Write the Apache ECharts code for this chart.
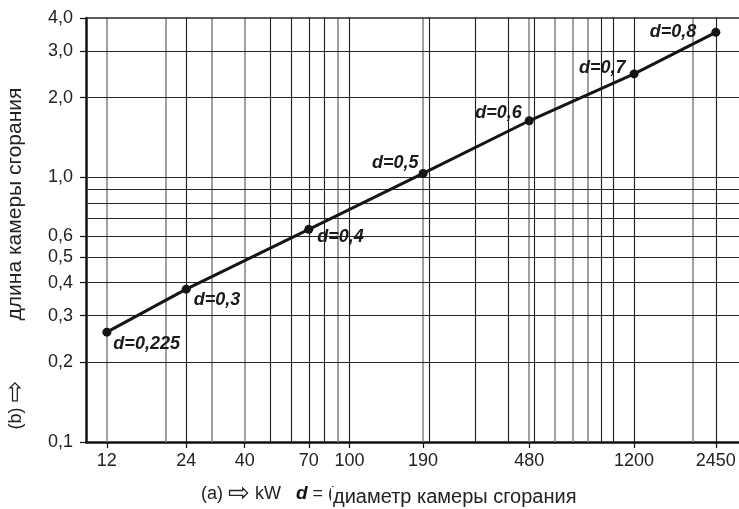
<!DOCTYPE html>
<html>
<head>
<meta charset="utf-8">
<script src="https://cdn.jsdelivr.net/npm/echarts@6/dist/echarts.min.js"></script>
<style>
  html, body { margin: 0; padding: 0; background: #fff; }
  #box { width: 739px; height: 509px; }
</style>
</head>
<body>
<div id="box"></div>
<script>
// мощность, kW
const powerKw = [12, 24, 70, 190, 480, 1200, 2450];
// длина камеры сгорания, m
const chamberLength = [0.26, 0.378, 0.636, 1.035, 1.636, 2.46, 3.53];
const dLabels = ['d=0,225', 'd=0,3', 'd=0,4', 'd=0,5', 'd=0,6', 'd=0,7', 'd=0,8'];

const xTickLabels = [12, 24, 40, 70, 100, 190, 480, 1200, 2450];
const yTickLabels = [0.1, 0.2, 0.3, 0.4, 0.5, 0.6, 1, 2, 3, 4];

// сетка
const xGridGray = [12, 20, 30, 40, 90, 190, 480, 600, 700, 800, 2000];
const xGridDark = [24, 50, 60, 70, 80, 100, 200, 300, 400, 500, 900, 1000, 1200, 2450];
const yGrid = [0.2, 0.3, 0.4, 0.5, 0.6, 0.7, 0.8, 0.9, 1, 2, 3, 4];

const FONT = '"Liberation Sans", Arial, sans-serif';

// где стоит подпись у точки
const labelSide = ['right', 'right', 'right', 'left', 'left', 'left', 'left'];
const labelShift = [[-3, 12], [-2, 11], [-1, 8], [5, -10], [2, -8], [1, -6], [-10, 0]];

const chart = echarts.init(document.getElementById('box'));

const gridLines = [];
xGridGray.forEach(v => gridLines.push({ xAxis: v, lineStyle: { color: '#8a8a8a', width: 1.6, type: 'solid' } }));
xGridDark.forEach(v => gridLines.push({ xAxis: v, lineStyle: { color: '#1e1e1e', width: 1.1, type: 'solid' } }));
yGrid.forEach(v => gridLines.push({ yAxis: v, lineStyle: { color: '#262626', width: v === 4 ? 1.5 : 1.1, type: 'solid' } }));

const option = {
    animation: false,
    grid: { left: 86, right: 0, top: 18, bottom: 67 },
    xAxis: {
        type: 'log',
        logBase: 10,
        min: 10,
        max: 3000,
        axisLine: { show: true, onZero: false, lineStyle: { color: '#111', width: 2.5 } },
        axisTick: { show: true, length: 6, customValues: xTickLabels, lineStyle: { color: '#111', width: 1.2 } },
        axisLabel: {
            customValues: xTickLabels,
            color: '#222',
            fontSize: 18,
            fontFamily: FONT,
            margin: 10,
            formatter: v => String(v)
        },
        splitLine: { show: false },
        minorTick: { show: false }
    },
    yAxis: {
        type: 'log',
        logBase: 10,
        min: 0.1,
        max: 4,
        axisLine: { show: true, lineStyle: { color: '#111', width: 2.5 } },
        axisTick: { show: true, length: 6, customValues: yTickLabels, lineStyle: { color: '#111', width: 1.2 } },
        axisLabel: {
            customValues: yTickLabels,
            color: '#222',
            fontSize: 18,
            fontFamily: FONT,
            margin: 13,
            formatter: v => v.toFixed(1).replace('.', ',')
        },
        splitLine: { show: false }
    },
    graphic: [
        {
            type: 'text',
            x: 15, y: 204,
            rotation: Math.PI / 2,
            style: {
                text: 'длина камеры сгорания',
                font: '21px ' + FONT,
                fill: '#222',
                align: 'center',
                verticalAlign: 'middle'
            }
        },
        {
            type: 'text',
            x: 16, y: 405,
            rotation: Math.PI / 2,
            style: {
                text: '(b) {a|⇨}',
                font: '18px ' + FONT,
                fill: '#222',
                align: 'center',
                verticalAlign: 'middle',
                rich: {
                    a: { font: '26px "DejaVu Sans", sans-serif', fill: '#222' }
                }
            }
        },
        {
            type: 'text',
            x: 334, y: 494,
            style: {
                text: '(a) {a|⇨} kW   {b|d} = (',
                font: '18px ' + FONT,
                fill: '#222',
                align: 'right',
                verticalAlign: 'middle',
                rich: {
                    a: { font: '26px "DejaVu Sans", sans-serif', fill: '#222' },
                    b: { font: 'italic bold 19px ' + FONT, fill: '#111' }
                }
            }
        },
        {
            type: 'text',
            x: 331, y: 497,
            style: {
                text: 'диаметр камеры сгорания',
                font: '20px ' + FONT,
                fill: '#222',
                align: 'left',
                verticalAlign: 'middle',
                backgroundColor: '#fff',
                padding: [0, 0, 0, 2]
            }
        }
    ],
    series: [
        {
            name: 'grid',
            type: 'line',
            z: 1,
            data: [],
            silent: true,
            markLine: {
                silent: true,
                symbol: 'none',
                label: { show: false },
                animation: false,
                data: gridLines
            }
        },
        {
            name: 'length',
            type: 'line',
            z: 5,
            symbol: 'circle',
            symbolSize: 9,
            lineStyle: { color: '#151515', width: 3 },
            itemStyle: { color: '#151515' },
            data: powerKw.map((p, i) => ({
                value: [p, chamberLength[i]],
                label: {
                    show: true,
                    formatter: dLabels[i],
                    position: labelSide[i],
                    offset: labelShift[i],
                    color: '#1a1a1a',
                    fontFamily: FONT,
                    fontStyle: 'italic',
                    fontWeight: 'bold',
                    fontSize: 18
                }
            }))
        }
    ]
};

chart.setOption(option);
</script>
</body>
</html>
